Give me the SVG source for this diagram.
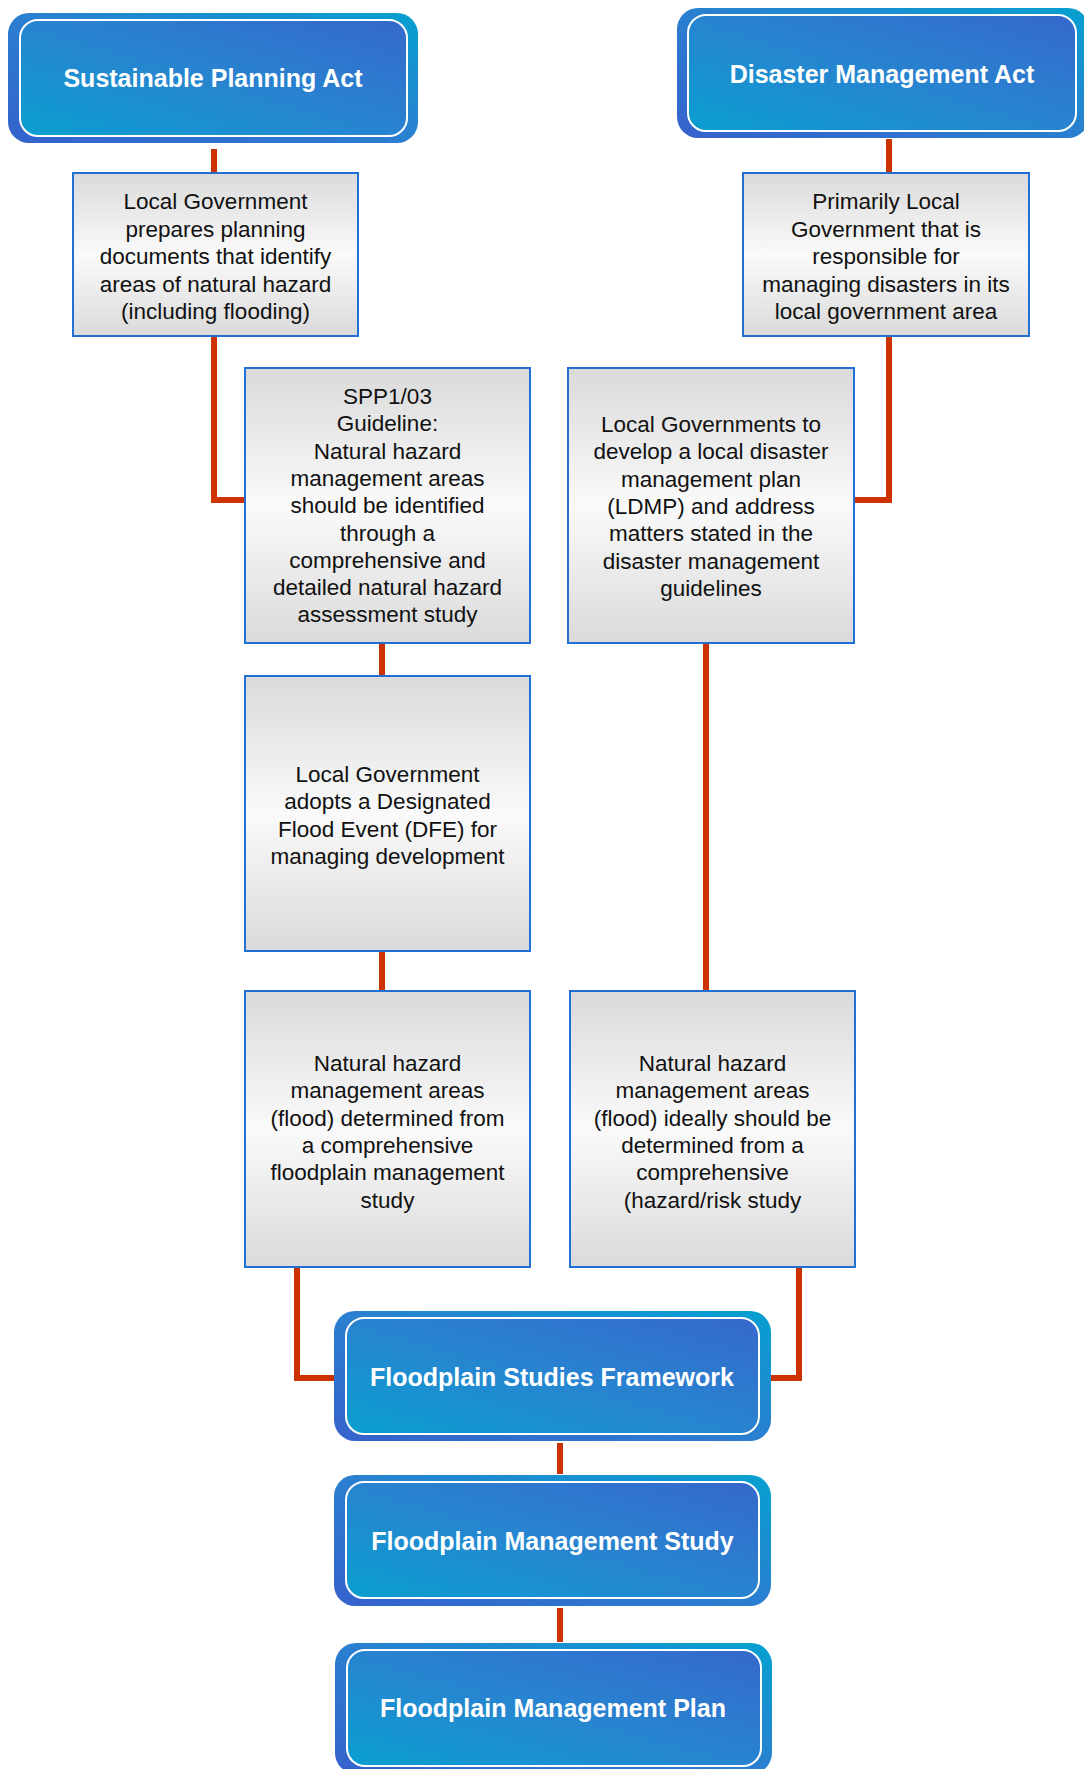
<svg xmlns="http://www.w3.org/2000/svg" width="1084" height="1769" viewBox="0 0 1084 1769">
<defs>
<linearGradient id="gOuter" x1="0" y1="1" x2="1" y2="0">
<stop offset="0" stop-color="#3562cc"/>
<stop offset="0.5" stop-color="#2a7fd0"/>
<stop offset="1" stop-color="#06a0d0"/>
</linearGradient>
<linearGradient id="gInner" x1="0" y1="1" x2="1" y2="0">
<stop offset="0" stop-color="#0a9fd0"/>
<stop offset="0.5" stop-color="#2884d0"/>
<stop offset="1" stop-color="#3568cc"/>
</linearGradient>
<linearGradient id="gGray" x1="0" y1="0" x2="0" y2="1">
<stop offset="0" stop-color="#dadada"/>
<stop offset="0.5" stop-color="#fafafa"/>
<stop offset="1" stop-color="#dadada"/>
</linearGradient>
<style>
.outer{fill:url(#gOuter);}
.inner{fill:url(#gInner);stroke:#ffffff;stroke-width:2;}
.gray{fill:url(#gGray);stroke:#2270d6;stroke-width:2;}
.ttl{font-family:"Liberation Sans",Arial,sans-serif;font-weight:bold;font-size:25px;fill:#ffffff;text-anchor:middle;}
.txt{font-family:"Liberation Sans",Arial,sans-serif;font-size:22.5px;fill:#111111;text-anchor:middle;}
.conn{fill:none;stroke:#cc3300;stroke-width:6;stroke-linejoin:miter;stroke-linecap:butt;}
</style>
</defs>
<rect width="1084" height="1769" fill="#ffffff"/>

<g id="connectors">
<path class="conn" d="M214,149 V173"/>
<path class="conn" d="M214,336 V500 H245"/>
<path class="conn" d="M889,139 V173"/>
<path class="conn" d="M889,336 V500 H854"/>
<path class="conn" d="M382,643 V676"/>
<path class="conn" d="M382,951 V991"/>
<path class="conn" d="M706,643 V991"/>
<path class="conn" d="M297,1267 V1378 H334"/>
<path class="conn" d="M799,1267 V1378 H770"/>
<path class="conn" d="M560,1443 V1474"/>
<path class="conn" d="M560,1608 V1642"/>
</g>

<g id="sustainable-planning-act">
<rect class="outer" x="8" y="13" width="410" height="130" rx="21"/>
<rect class="inner" x="20" y="20" width="387" height="116" rx="18"/>
<text class="ttl" x="213" y="87">Sustainable Planning Act</text>
</g>

<g id="disaster-management-act">
<rect class="outer" x="677" y="8" width="412" height="130" rx="21"/>
<rect class="inner" x="688" y="15" width="388" height="116" rx="18"/>
<text class="ttl" x="882" y="83">Disaster Management Act</text>
</g>

<g id="lg-planning-docs">
<rect class="gray" x="73" y="173" width="285" height="163"/>
<text class="txt" x="215.5" y="209">Local Government</text>
<text class="txt" x="215.5" y="236.5">prepares planning</text>
<text class="txt" x="215.5" y="264">documents that identify</text>
<text class="txt" x="215.5" y="291.5">areas of natural hazard</text>
<text class="txt" x="215.5" y="319">(including flooding)</text>
</g>

<g id="primarily-lg">
<rect class="gray" x="743" y="173" width="286" height="163"/>
<text class="txt" x="886" y="209">Primarily Local</text>
<text class="txt" x="886" y="236.5">Government that is</text>
<text class="txt" x="886" y="264">responsible for</text>
<text class="txt" x="886" y="291.5">managing disasters in its</text>
<text class="txt" x="886" y="319">local government area</text>
</g>

<g id="spp-guideline">
<rect class="gray" x="245" y="368" width="285" height="275"/>
<text class="txt" x="387.5" y="404">SPP1/03</text>
<text class="txt" x="387.5" y="431.3">Guideline:</text>
<text class="txt" x="387.5" y="458.6">Natural hazard</text>
<text class="txt" x="387.5" y="485.9">management areas</text>
<text class="txt" x="387.5" y="513.2">should be identified</text>
<text class="txt" x="387.5" y="540.5">through a</text>
<text class="txt" x="387.5" y="567.8">comprehensive and</text>
<text class="txt" x="387.5" y="595.1">detailed natural hazard</text>
<text class="txt" x="387.5" y="622.4">assessment study</text>
</g>

<g id="ldmp">
<rect class="gray" x="568" y="368" width="286" height="275"/>
<text class="txt" x="711" y="432">Local Governments to</text>
<text class="txt" x="711" y="459.3">develop a local disaster</text>
<text class="txt" x="711" y="486.6">management plan</text>
<text class="txt" x="711" y="513.9">(LDMP) and address</text>
<text class="txt" x="711" y="541.2">matters stated in the</text>
<text class="txt" x="711" y="568.5">disaster management</text>
<text class="txt" x="711" y="595.8">guidelines</text>
</g>

<g id="dfe">
<rect class="gray" x="245" y="676" width="285" height="275"/>
<text class="txt" x="387.5" y="782">Local Government</text>
<text class="txt" x="387.5" y="809.3">adopts a Designated</text>
<text class="txt" x="387.5" y="836.6">Flood Event (DFE) for</text>
<text class="txt" x="387.5" y="863.9">managing development</text>
</g>

<g id="nhma-floodplain">
<rect class="gray" x="245" y="991" width="285" height="276"/>
<text class="txt" x="387.5" y="1071">Natural hazard</text>
<text class="txt" x="387.5" y="1098.3">management areas</text>
<text class="txt" x="387.5" y="1125.6">(flood) determined from</text>
<text class="txt" x="387.5" y="1152.9">a comprehensive</text>
<text class="txt" x="387.5" y="1180.2">floodplain management</text>
<text class="txt" x="387.5" y="1207.5">study</text>
</g>

<g id="nhma-hazard-risk">
<rect class="gray" x="570" y="991" width="285" height="276"/>
<text class="txt" x="712.5" y="1071">Natural hazard</text>
<text class="txt" x="712.5" y="1098.3">management areas</text>
<text class="txt" x="712.5" y="1125.6">(flood) ideally should be</text>
<text class="txt" x="712.5" y="1152.9">determined from a</text>
<text class="txt" x="712.5" y="1180.2">comprehensive</text>
<text class="txt" x="712.5" y="1207.5">(hazard/risk study</text>
</g>

<g id="floodplain-studies-framework">
<rect class="outer" x="334" y="1311" width="437" height="130" rx="21"/>
<rect class="inner" x="346" y="1318" width="413" height="116" rx="18"/>
<text class="ttl" x="552" y="1386">Floodplain Studies Framework</text>
</g>

<g id="floodplain-management-study">
<rect class="outer" x="334" y="1475" width="437" height="131" rx="21"/>
<rect class="inner" x="346" y="1482" width="413" height="116" rx="18"/>
<text class="ttl" x="552.5" y="1550">Floodplain Management Study</text>
</g>

<g id="floodplain-management-plan">
<rect class="outer" x="335" y="1643" width="437" height="131" rx="21"/>
<rect class="inner" x="347" y="1650" width="414" height="116" rx="18"/>
<text class="ttl" x="553" y="1717">Floodplain Management Plan</text>
</g>
</svg>
